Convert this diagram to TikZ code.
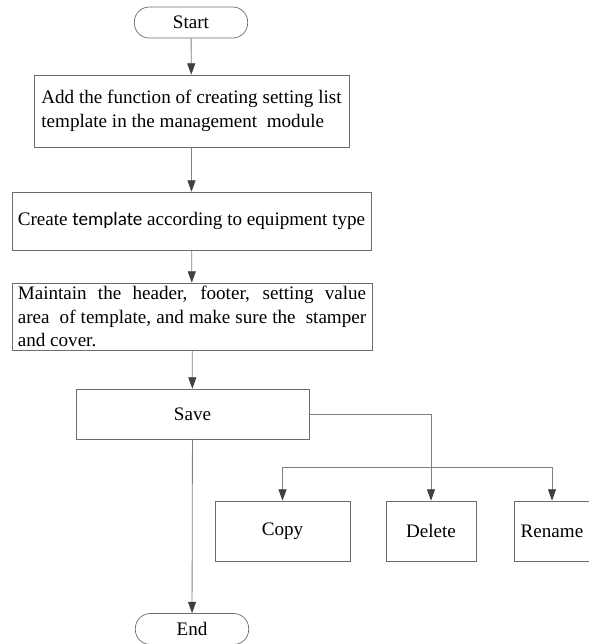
\documentclass[tikz,border=0pt]{standalone}
\usepackage{fontspec}
\setmainfont{Liberation Serif}
\newfontfamily\tplfont{Carlito}
\usepackage{tikz}
\usetikzlibrary{positioning,arrows.meta,calc}

\begin{document}
\begin{tikzpicture}[x=0.03cm, y=-0.03cm]
  \tikzset{
    >={Triangle[length=3.4mm,width=2.4mm,color=black!75,fill=black!75]},
    proc/.style={draw=gray!85!black,line width=0.6pt,minimum height=1.8cm,
                 inner sep=2pt,font=\fontsize{16.3}{20}\selectfont},
    term/.style={draw=gray!85!black,line width=0.6pt,rounded corners=0.45cm,
                 minimum width=3.4cm,minimum height=0.93cm,
                 font=\fontsize{16.3}{17}\selectfont},
    flow/.style={draw=gray,line width=0.7pt,->}
  }
  \useasboundingbox (0,0) rectangle (589,644);
  \clip (0,0) rectangle (589,644);
  % Main column
  \node[term] (start) at (191,22.5) {Start};
  \node[proc,minimum width=9.45cm,minimum height=2.16cm,align=left,
        font=\fontsize{16.3}{21}\selectfont] (addfn) at (191.5,111)
    {Add the function of creating setting list\\template in the management\ \ module};
  \node[proc,minimum width=10.77cm,minimum height=1.74cm] (create) at (191.5,221)
    {Create {\tplfont template} according to equipment type};
  \node[proc,minimum width=10.8cm,minimum height=2.01cm,text width=10.45cm,align=justify] (maint) at (192,316.5)
    {Maintain the header, footer, setting value\linebreak
     area\ \ of template, and make sure the\ \ stamper\linebreak
     and cover.};
  \node[proc,minimum width=6.99cm,minimum height=1.5cm] (save) at (192.5,414) {Save};
  \node[term] (end) at (192,629) {End};
  % Operations on the saved template
  \node[proc,minimum width=4.05cm] (copy) at (282.5,531) {Copy};
  \node[proc,minimum width=2.7cm] (delete) at (431,531) {Delete};
  \node[proc,minimum width=2.28cm] (rename) at (552,531) {Rename};
  \coordinate (brR) at (552,467);
  % Connectors
  \draw[flow] (start) -- (addfn);
  \draw[flow] (addfn) -- (create);
  \draw[flow] (create) -- (maint);
  \draw[flow] (maint) -- (save);
  \draw[flow] (save) -- (end);
  \draw[flow] (save.east) -| (delete.north);
  \draw[flow,<->] (copy.north) |- (brR) -- (rename.north);
\end{tikzpicture}
\end{document}
